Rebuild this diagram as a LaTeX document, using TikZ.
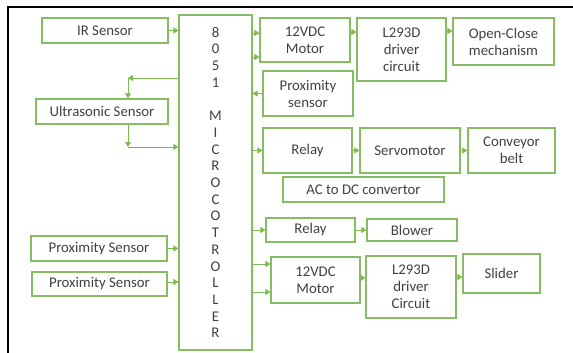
\documentclass[tikz,border=0pt]{standalone}
\usepackage{fontspec}
\setmainfont{Carlito}
\usepackage{tikz}
\usetikzlibrary{arrows.meta, positioning, calc}
\definecolor{boxgreen}{HTML}{86BD63}
\definecolor{arrowgreen}{HTML}{7DBA52}
\definecolor{labelgray}{HTML}{404040}

\begin{document}
\begin{tikzpicture}[x=1pt, y=-1pt,
  every node/.style={font=\fontsize{14.8}{17}\selectfont, text=labelgray},
  blk/.style={draw=boxgreen, line width=1.1pt, align=center, inner sep=0pt},
  arr/.style={draw=arrowgreen, line width=0.8pt, -{Triangle[width=6pt,length=5pt]}}]
  \useasboundingbox (0,0) rectangle (573,353);
  % page frame
  \draw[line width=2pt] (8,353) -- (8,7) -- (573,7);

  % inputs
  \node[blk, minimum width=126pt, minimum height=25pt] (ir) at (105,30.5) {IR Sensor};
  \node[blk, minimum width=132pt, minimum height=25pt] (us) at (102,111.5) {Ultrasonic Sensor};
  \node[blk, minimum width=136pt, minimum height=25pt] (proxa) at (99,248.5) {Proximity Sensor};
  \node[blk, minimum width=135pt, minimum height=24pt] (proxb) at (99.5,284) {Proximity Sensor};

  % controller
  \node[blk, minimum width=73pt, minimum height=335pt, font=\fontsize{14.8}{16.7}\selectfont] (mcu) at (215.5,182.5)
    {8\\0\\5\\1\\[16.7pt]M\\I\\C\\R\\O\\C\\O\\T\\R\\O\\L\\L\\E\\R};

  % outputs
  \node[blk, minimum width=90pt, minimum height=44pt] (mota) at (305,40) {12VDC\\Motor};
  \node[blk, minimum width=89pt, minimum height=63pt] (drva) at (401.5,49.5) {L293D\\driver\\circuit};
  \node[blk, minimum width=101pt, minimum height=47pt] (open) at (503.5,41.5) {Open-Close\\mechanism};
  \node[blk, minimum width=90pt, minimum height=45pt] (proxr) at (308,93.5) {Proximity\\sensor};
  \node[blk, minimum width=89pt, minimum height=45pt] (relaya) at (307.5,150.5) {Relay};
  \node[blk, minimum width=100pt, minimum height=45pt] (servo) at (410,150.5) {Servomotor};
  \node[blk, minimum width=87pt, minimum height=45pt] (belt) at (511.5,150.5) {Conveyor\\belt};
  \node[blk, minimum width=161pt, minimum height=25pt] (acdc) at (363.5,189.5) {AC to DC convertor};
  \node[blk, minimum width=89pt, minimum height=24pt] (relayb) at (310.5,230) {Relay};
  \node[blk, minimum width=90pt, minimum height=22pt] (blower) at (412,230) {Blower};
  \node[blk, minimum width=89pt, minimum height=46pt] (motb) at (315.5,280) {12VDC\\Motor};
  \node[blk, minimum width=90pt, minimum height=62pt] (drvb) at (411,287) {L293D\\driver\\Circuit};
  \node[blk, minimum width=77pt, minimum height=39pt] (slider) at (501.5,273.5) {Slider};

  % ultrasonic loop
  \coordinate (usin) at (128,78);
  \coordinate (usout) at (128,147);
  \draw[arr] (mcu.west |- usin) -- (usin);
  \draw[arr] (usin) -- (us.north -| usin);
  \draw[arr] (us.south -| usout) -- (usout);
  \draw[arr] (usout) -- (mcu.west |- usout);

  % links into the controller
  \draw[arr] (ir.east) -- (ir.east -| mcu.west);
  \draw[arr] (proxa.east) -- (proxa.east -| mcu.west);
  \draw[arr] (proxb.east |- 0,282) -- (mcu.west |- 0,282);
  \draw[arr] (proxr.west) -- (proxr.west -| mcu.east);

  % links out of the controller
  \draw[arr] (mcu.east |- 0,33) -- (mota.west |- 0,33);
  \draw[arr] (mcu.east |- 0,57) -- (mota.west |- 0,57);
  \draw[arr] (mota.east |- 0,32) -- (drva.west |- 0,32);
  \draw[arr] (drva.east |- 0,31) -- (open.west |- 0,31);
  \draw[arr] (relaya.west -| mcu.east) -- (relaya.west);
  \draw[arr] (relaya.east) -- (servo.west);
  \draw[arr] (servo.east) -- (belt.west);
  \draw[arr] (relayb.west -| mcu.east) -- (relayb.west);
  \draw[arr] (relayb.east) -- (blower.west);
  \draw[arr] (mcu.east |- 0,264) -- (motb.west |- 0,264);
  \draw[arr] (mcu.east |- 0,292) -- (motb.west |- 0,292);
  \draw[arr] (motb.east |- 0,278) -- (drvb.west |- 0,278);
  \draw[arr] (drvb.east |- 0,277) -- (slider.west |- 0,277);
\end{tikzpicture}
\end{document}
